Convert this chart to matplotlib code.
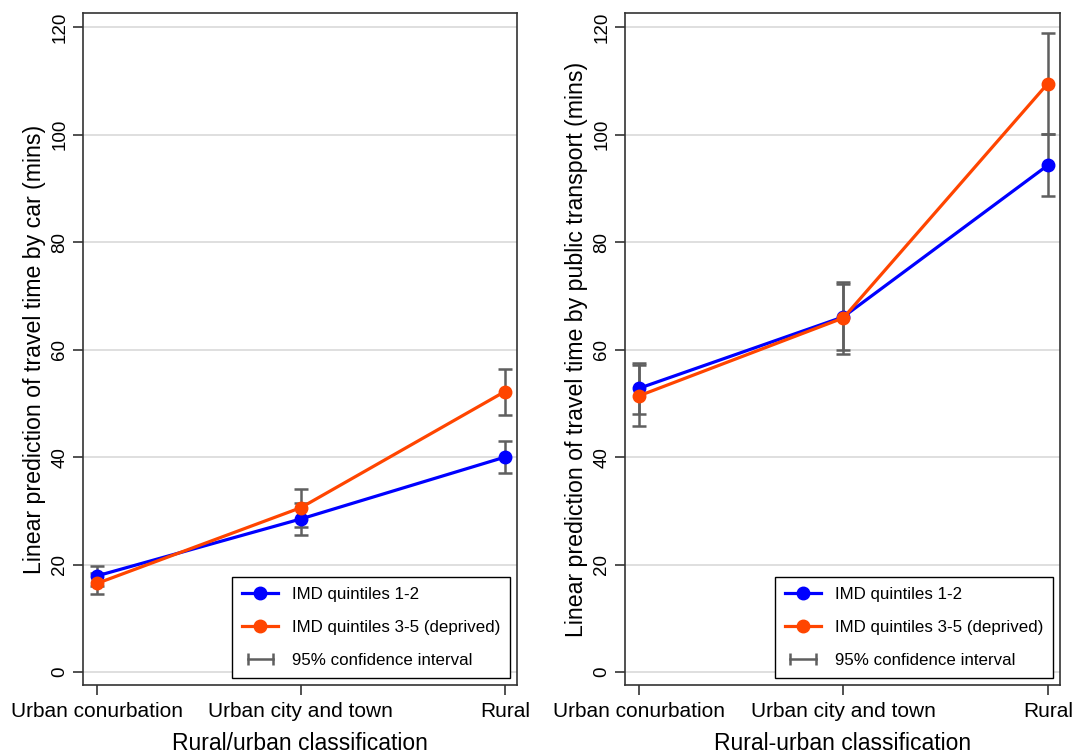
import matplotlib.pyplot as plt
from matplotlib.lines import Line2D
from matplotlib.legend_handler import HandlerLine2D

plt.rcParams['font.family'] = ['Liberation Sans', 'DejaVu Sans']

categories = ["Urban conurbation", "Urban city and town", "Rural"]

# travel time by car
car_low = [17.9, 28.5, 40.0]
car_low_ci_lo = [16.1, 25.5, 37.0]
car_low_ci_hi = [19.7, 31.4, 43.0]
car_dep = [16.5, 30.6, 52.2]
car_dep_ci_lo = [14.6, 27.0, 47.8]
car_dep_ci_hi = [18.4, 34.1, 56.4]

# travel time by public transport
pt_low = [52.8, 66.1, 94.3]
pt_low_ci_lo = [48.0, 59.9, 88.6]
pt_low_ci_hi = [57.5, 72.3, 100.1]
pt_dep = [51.4, 65.9, 109.5]
pt_dep_ci_lo = [45.7, 59.1, 100.1]
pt_dep_ci_hi = [57.2, 72.6, 118.9]

blue = "#0000ff"
orange = "#ff4500"
grey = "#5f5f5f"

fig = plt.figure(figsize=(10.73, 7.54), dpi=100)
ax1 = fig.add_axes([0.0774, 0.0915, 0.4045, 0.891])
ax2 = fig.add_axes([0.5825, 0.0915, 0.4054, 0.891])


def draw(ax, low, llo, lhi, dep, dlo, dhi, ylabel, xlabel):
    x = range(len(categories))
    for vals, lo, hi in [(low, llo, lhi), (dep, dlo, dhi)]:
        err = [[v - a for v, a in zip(vals, lo)], [b - v for v, b in zip(vals, hi)]]
        ax.errorbar(x, vals, yerr=err, fmt="none", ecolor=grey, elinewidth=1.8,
                    capsize=5, capthick=1.8, zorder=2)
    ax.plot(x, low, color=blue, lw=2.3, marker="o", ms=9, zorder=3)
    ax.plot(x, dep, color=orange, lw=2.3, marker="o", ms=9, zorder=4)
    ax.set_xlim(-0.068, 2.06)
    ax.set_ylim(-2.4, 122.6)
    ax.set_yticks([0, 20, 40, 60, 80, 100, 120])
    ax.set_xticks(list(x))
    ax.set_xticklabels(categories, fontsize=15)
    for t in ax.get_yticklabels():
        t.set_rotation(90)
        t.set_va("center")
        t.set_fontsize(13.5)
    ax.tick_params(axis="both", direction="out", length=7, width=1.2, color="#333333")
    ax.tick_params(axis="x", pad=5)
    ax.yaxis.grid(True, color="#dcdcdc", lw=1.3)
    ax.set_axisbelow(True)
    for s in ax.spines.values():
        s.set_color("#333333")
        s.set_linewidth(1.2)
    ax.set_ylabel(ylabel, fontsize=16.7, labelpad=4)
    ax.set_xlabel(xlabel, fontsize=16.5, labelpad=8)

    h1 = Line2D([], [], color=blue, lw=2.3, marker="o", ms=9)
    h2 = Line2D([], [], color=orange, lw=2.3, marker="o", ms=9)
    h3 = Line2D([], [], color=grey, lw=1.8, marker="|", ms=9, mew=1.8)
    leg = ax.legend([h1, h2, h3],
                    ["IMD quintiles 1-2", "IMD quintiles 3-5 (deprived)", "95% confidence interval"],
                    handler_map={h3: HandlerLine2D(numpoints=2)},
                    loc="lower right", bbox_to_anchor=(0.984, 0.010), borderaxespad=0,
                    fontsize=12.2, fancybox=False, framealpha=1, edgecolor="black",
                    borderpad=0.6, labelspacing=1.07, handlelength=2.1, handletextpad=0.8)
    leg.get_frame().set_linewidth(1.0)
    leg.set_zorder(10)


draw(ax1, car_low, car_low_ci_lo, car_low_ci_hi, car_dep, car_dep_ci_lo, car_dep_ci_hi,
     "Linear prediction of travel time by car (mins)", "Rural/urban classification")
draw(ax2, pt_low, pt_low_ci_lo, pt_low_ci_hi, pt_dep, pt_dep_ci_lo, pt_dep_ci_hi,
     "Linear prediction of travel time by public transport (mins)", "Rural-urban classification")

fig.savefig("out.png", dpi=100)
